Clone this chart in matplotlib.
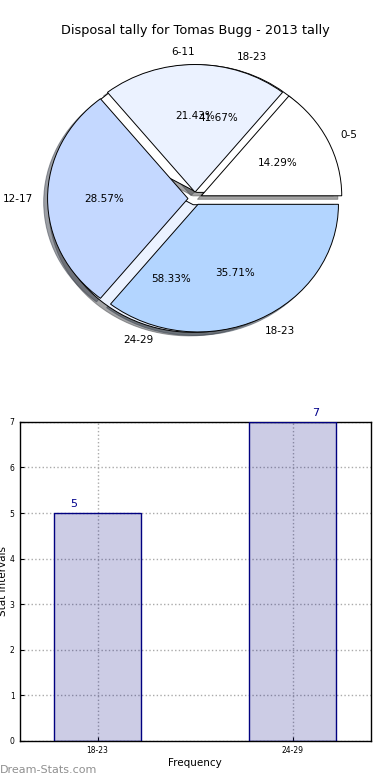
import matplotlib
matplotlib.use("Agg")
import matplotlib.pyplot as plt

# ---- data ----
title = "Disposal tally for Tomas Bugg - 2013 tally"
pie1_labels = ["0-5", "6-11", "12-17", "18-23"]
pie1_values = [2, 3, 4, 5]
pie2_labels = ["18-23", "24-29"]
pie2_values = [5, 7]
bar_labels = ["18-23", "24-29"]
bar_values = [5, 7]

pie_colors = ["#FFFFFF", "#EBF2FF", "#C4D8FF", "#B3D5FF"]

fig = plt.figure(figsize=(3.9, 7.8), dpi=100)
fig.subplots_adjust(left=0.05, right=0.95, bottom=0.05, top=0.95, hspace=0.2)
ax1 = fig.add_subplot(2, 1, 1)
ax2 = fig.add_subplot(2, 1, 2)

# ---- pie: two overlaid pies ----
common = dict(autopct="%1.2f%%", shadow=True,
              wedgeprops=dict(edgecolor="black", linewidth=0.7),
              textprops=dict(fontsize=7.5))
ax1.pie(pie2_values, labels=pie2_labels, colors=pie_colors[:2],
        explode=[0.05] * len(pie2_values), **common)
ax1.pie(pie1_values, labels=pie1_labels, colors=pie_colors,
        explode=[0.05] * len(pie1_values), **common)
ax1.set_aspect("auto")
ax1.set_xlim(-1.25, 1.25)
ax1.set_ylim(-1.25, 1.25)
ax1.set_title(title, fontsize=9.3, pad=3.5)

# ---- bar chart ----
xpos = list(range(len(bar_values)))
ax2.bar(xpos, bar_values, width=0.45, color="#000080", alpha=0.2, zorder=2)
ax2.bar(xpos, bar_values, width=0.45, facecolor="none", edgecolor="#000080",
        linewidth=1.0, zorder=3)
label_dx = [-0.12, 0.12]
for x, v, dx in zip(xpos, bar_values, label_dx):
    ax2.text(x + dx, v + 0.08, str(v), color="#00008B", fontsize=8,
             ha="center", va="bottom")
ax2.set_xlim(-0.4, 1.4)
ax2.set_ylim(0, 7)
ax2.set_yticks(range(0, 8))
ax2.set_xticks(xpos)
ax2.set_xticklabels(bar_labels)
ax2.tick_params(labelsize=5.5, direction="in", length=3)
ax2.grid(True, linestyle=":", color="#AAAAAA", linewidth=1.0, zorder=0)
ax2.set_axisbelow(True)
ax2.set_xlabel("Frequency", fontsize=7.5, labelpad=2)
ax2.set_ylabel("Stat Intervals", fontsize=7.5, labelpad=1)
for s in ax2.spines.values():
    s.set_linewidth(1.0)

fig.text(0.0, 0.006, "Dream-Stats.com", fontsize=8, color="#909090",
         ha="left", va="bottom")

fig.savefig("out.png", dpi=100)
